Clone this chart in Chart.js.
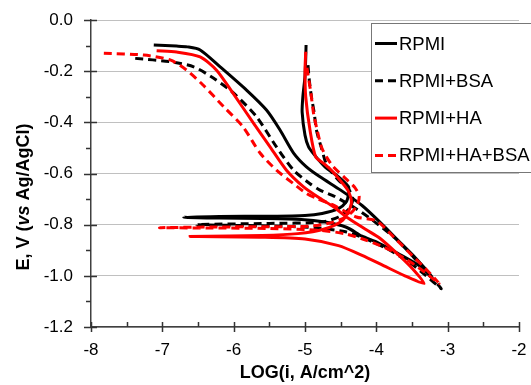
<!DOCTYPE html>
<html>
<head>
<meta charset="utf-8">
<script src="https://cdn.jsdelivr.net/npm/chart.js@4.4.1/dist/chart.umd.min.js"></script>
<style>
html, body { margin: 0; padding: 0; background: #fff; }
</style>
</head>
<body>
<canvas id="chart" width="531" height="385"></canvas>
<script>
// LOG(i) and E values, one path per curve
const logI_RPMI = [-7.12,-6.8,-6.65,-6.47,-6.19,-5.82,-5.54,-5.35,-5.16,-4.98,-4.79,-4.5,-4.2,-3.95,-3.7,-3.45,-3.22,
  -3.4,-3.7,-4.0,-4.2,-4.42,-4.74,-5.05,-5.6,-6.2,-6.7,
  -6.2,-5.5,-5.0,-4.76,-4.53,-4.42,-4.39,-4.39,-4.53,-4.72,-4.86,-4.95,-5.0,-5.04,-5.03,-5.0,-4.99,-4.985]
const E_RPMI = [-0.098,-0.102,-0.105,-0.117,-0.183,-0.274,-0.352,-0.43,-0.52,-0.574,-0.613,-0.665,-0.725,-0.79,-0.86,-0.93,-1.005,
  -0.96,-0.912,-0.867,-0.845,-0.81,-0.789,-0.78,-0.776,-0.774,-0.771,
  -0.768,-0.767,-0.764,-0.756,-0.737,-0.71,-0.68,-0.652,-0.613,-0.574,-0.53,-0.496,-0.45,-0.36,-0.30,-0.22,-0.15,-0.098]

const logI_BSA = [-7.38,-6.89,-6.56,-6.28,-6.0,-5.68,-5.40,-5.16,-4.93,-4.79,-4.58,-4.3,-4.04,-3.75,-3.5,-3.3,-3.09,
  -3.3,-3.5,-3.81,-4.15,-4.43,-4.86,-5.5,-6.52,
  -5.5,-4.77,-4.53,-4.38,-4.33,-4.38,-4.53,-4.69,-4.77,-4.84,-4.87,-4.91,-4.94,-4.96]
const E_BSA = [-0.15,-0.163,-0.183,-0.228,-0.286,-0.378,-0.496,-0.587,-0.64,-0.665,-0.69,-0.735,-0.785,-0.85,-0.92,-0.985,-1.05,
  -1.0,-0.955,-0.90,-0.855,-0.828,-0.812,-0.805,-0.80,
  -0.795,-0.79,-0.77,-0.737,-0.70,-0.665,-0.626,-0.57,-0.50,-0.43,-0.365,-0.30,-0.235,-0.17]

const logI_HA = [-7.08,-6.8,-6.47,-6.24,-6.01,-5.72,-5.49,-5.26,-5.02,-4.79,-4.6,-4.42,-4.14,-3.95,-3.7,-3.5,-3.33,
  -3.6,-3.9,-4.2,-4.53,-5.0,-5.6,-6.61,
  -5.6,-5.1,-4.74,-4.47,-4.35,-4.40,-4.51,-4.62,-4.74,-4.85,-4.93,-4.99,-5.0,-4.99]
const E_HA = [-0.12,-0.125,-0.144,-0.196,-0.286,-0.404,-0.496,-0.587,-0.652,-0.697,-0.73,-0.77,-0.82,-0.853,-0.915,-0.97,-1.03,
  -1.0,-0.96,-0.92,-0.882,-0.856,-0.849,-0.846,
  -0.842,-0.835,-0.818,-0.782,-0.717,-0.665,-0.626,-0.59,-0.56,-0.535,-0.43,-0.30,-0.2,-0.124]

const logI_HABSA = [-7.82,-7.26,-6.89,-6.66,-6.43,-6.14,-5.87,-5.63,-5.40,-5.16,-4.98,-4.84,-4.6,-4.28,-4.0,-3.75,-3.5,-3.3,-3.12,
  -3.3,-3.5,-3.8,-4.15,-4.45,-4.8,-5.5,-6.3,-7.04,
  -6.3,-5.5,-4.9,-4.6,-4.4,-4.28,-4.24,-4.3,-4.45,-4.6,-4.70,-4.77,-4.83,-4.88,-4.92,-4.96,-4.98]
const E_HABSA = [-0.13,-0.137,-0.156,-0.196,-0.254,-0.339,-0.417,-0.52,-0.587,-0.64,-0.678,-0.697,-0.724,-0.77,-0.785,-0.85,-0.92,-0.975,-1.03,
  -0.99,-0.95,-0.9,-0.86,-0.835,-0.822,-0.815,-0.813,-0.812,
  -0.809,-0.808,-0.805,-0.79,-0.765,-0.73,-0.69,-0.655,-0.615,-0.575,-0.535,-0.496,-0.43,-0.365,-0.28,-0.21,-0.17]

const seriesNames = ["RPMI", "RPMI+BSA", "RPMI+HA", "RPMI+HA+BSA"]
const xTicks = [-8, -7, -6, -5, -4, -3, -2]
const yTicks = [-1.2, -1.0, -0.8, -0.6, -0.4, -0.2, 0.0]

const FONT = "'Liberation Sans', Arial, sans-serif"

function points(xs, ys) {
    return xs.map((x, i) => ({ x: x, y: ys[i] }))
}

function makeSet(name, xs, ys, color, dashed, order) {
    return {
        label: name,
        data: points(xs, ys),
        showLine: true,
        borderColor: color,
        backgroundColor: color,
        borderWidth: 3,
        borderDash: dashed ? [8, 5] : [],
        pointRadius: 0,
        tension: 0.25,
        fill: false,
        order: order
    }
}

// tick marks: major ones cross the axis, minor ones sit on one side
const tickMarks = {
    id: "tickMarks",
    afterDraw(chart) {
        const ctx = chart.ctx
        const xs = chart.scales.x, ys = chart.scales.y
        const ax = xs.left, ay = ys.bottom
        ctx.save()
        ctx.strokeStyle = "#333"
        ctx.lineWidth = 1.5
        ctx.beginPath()
        yTicks.forEach(v => {
            const p = Math.round(ys.getPixelForValue(v)) + 0.5
            ctx.moveTo(ax - 7, p); ctx.lineTo(ax + 6, p)
            if (v < 0) {
                const m = Math.round(ys.getPixelForValue(v + 0.1)) + 0.5
                ctx.moveTo(ax - 5, m); ctx.lineTo(ax, m)
            }
        })
        xTicks.forEach(v => {
            const p = Math.round(xs.getPixelForValue(v)) + 0.5
            ctx.moveTo(p, ay - 5); ctx.lineTo(p, ay + 5)
            if (v < -2) {
                const m = Math.round(xs.getPixelForValue(v + 0.5)) + 0.5
                ctx.moveTo(m, ay - 5); ctx.lineTo(m, ay)
            }
        })
        ctx.stroke()
        ctx.restore()
    }
}

// y title with the italic "vs"
const yTitle = {
    id: "yTitle",
    afterDraw(chart) {
        const ctx = chart.ctx
        const parts = [["E, V (", "bold 18px " + FONT], ["vs", "italic bold 18px " + FONT], [" Ag/AgCl)", "bold 18px " + FONT]]
        ctx.save()
        ctx.translate(24, 197)
        ctx.rotate(-Math.PI / 2)
        ctx.fillStyle = "#000"
        ctx.textBaseline = "middle"
        let total = 0
        parts.forEach(p => { ctx.font = p[1]; total += ctx.measureText(p[0]).width })
        let x = -total / 2
        parts.forEach(p => {
            ctx.font = p[1]
            ctx.fillText(p[0], x, 0)
            x += ctx.measureText(p[0]).width
        })
        ctx.restore()
    }
}

// boxed legend sitting over the plot, cut by the right edge
const boxLegend = {
    id: "boxLegend",
    afterDraw(chart) {
        const ctx = chart.ctx
        const left = 371.5, top = 23.5
        ctx.save()
        ctx.fillStyle = "#fff"
        ctx.fillRect(left, top, 200, 149)
        ctx.strokeStyle = "#777"
        ctx.lineWidth = 1
        ctx.strokeRect(left, top, 200, 149)
        ctx.font = "18.5px " + FONT
        ctx.textBaseline = "middle"
        chart.data.datasets.forEach((ds, i) => {
            const y = 43.5 + i * 37.3
            ctx.strokeStyle = ds.borderColor
            ctx.lineWidth = 3
            ctx.setLineDash(ds.borderDash.length ? [8, 5] : [])
            ctx.beginPath()
            ctx.moveTo(375, y)
            ctx.lineTo(397, y)
            ctx.stroke()
            ctx.setLineDash([])
            ctx.fillStyle = "#000"
            ctx.fillText(ds.label, 399, y + 1)
        })
        ctx.restore()
    }
}

new Chart(document.querySelector("#chart"), {
    type: "scatter",
    data: {
        datasets: [
            makeSet(seriesNames[0], logI_RPMI, E_RPMI, "#000000", false, 4),
            makeSet(seriesNames[1], logI_BSA, E_BSA, "#000000", true, 3),
            makeSet(seriesNames[2], logI_HA, E_HA, "#ff0000", false, 2),
            makeSet(seriesNames[3], logI_HABSA, E_HABSA, "#ff0000", true, 1)
        ]
    },
    options: {
        responsive: false,
        animation: false,
        devicePixelRatio: 1,
        layout: { padding: { top: 20, right: 12, left: 0, bottom: 0 } },
        plugins: {
            legend: { display: false },
            tooltip: { enabled: false }
        },
        scales: {
            x: {
                type: "linear",
                min: -8,
                max: -2,
                afterFit(s) { s.height = 58; s.paddingLeft = 0; s.paddingRight = 0 },
                afterBuildTicks(s) { s.ticks = xTicks.map(v => ({ value: v })) },
                ticks: {
                    padding: 13,
                    color: "#000",
                    font: { family: FONT, size: 17 },
                    maxRotation: 0,
                    callback: v => String(v)
                },
                grid: { display: true, drawOnChartArea: false, drawTicks: false },
                border: { color: "#404040", width: 1.5 },
                title: {
                    display: true,
                    text: "LOG(i, A/cm^2)",
                    color: "#000",
                    font: { family: FONT, size: 18, weight: "bold" },
                    padding: { top: 4, bottom: 1 }
                }
            },
            y: {
                type: "linear",
                min: -1.2,
                max: 0,
                afterFit(s) { s.width = 91; s.paddingTop = 0; s.paddingBottom = 0 },
                afterBuildTicks(s) { s.ticks = yTicks.map(v => ({ value: v })) },
                ticks: {
                    padding: 18,
                    color: "#000",
                    font: { family: FONT, size: 17 },
                    callback: v => v.toFixed(1)
                },
                grid: { color: "#c0c0c0", lineWidth: 1, drawTicks: false },
                border: { color: "#404040", width: 1.5 }
            }
        }
    },
    plugins: [tickMarks, yTitle, boxLegend]
})
</script>
</body>
</html>
